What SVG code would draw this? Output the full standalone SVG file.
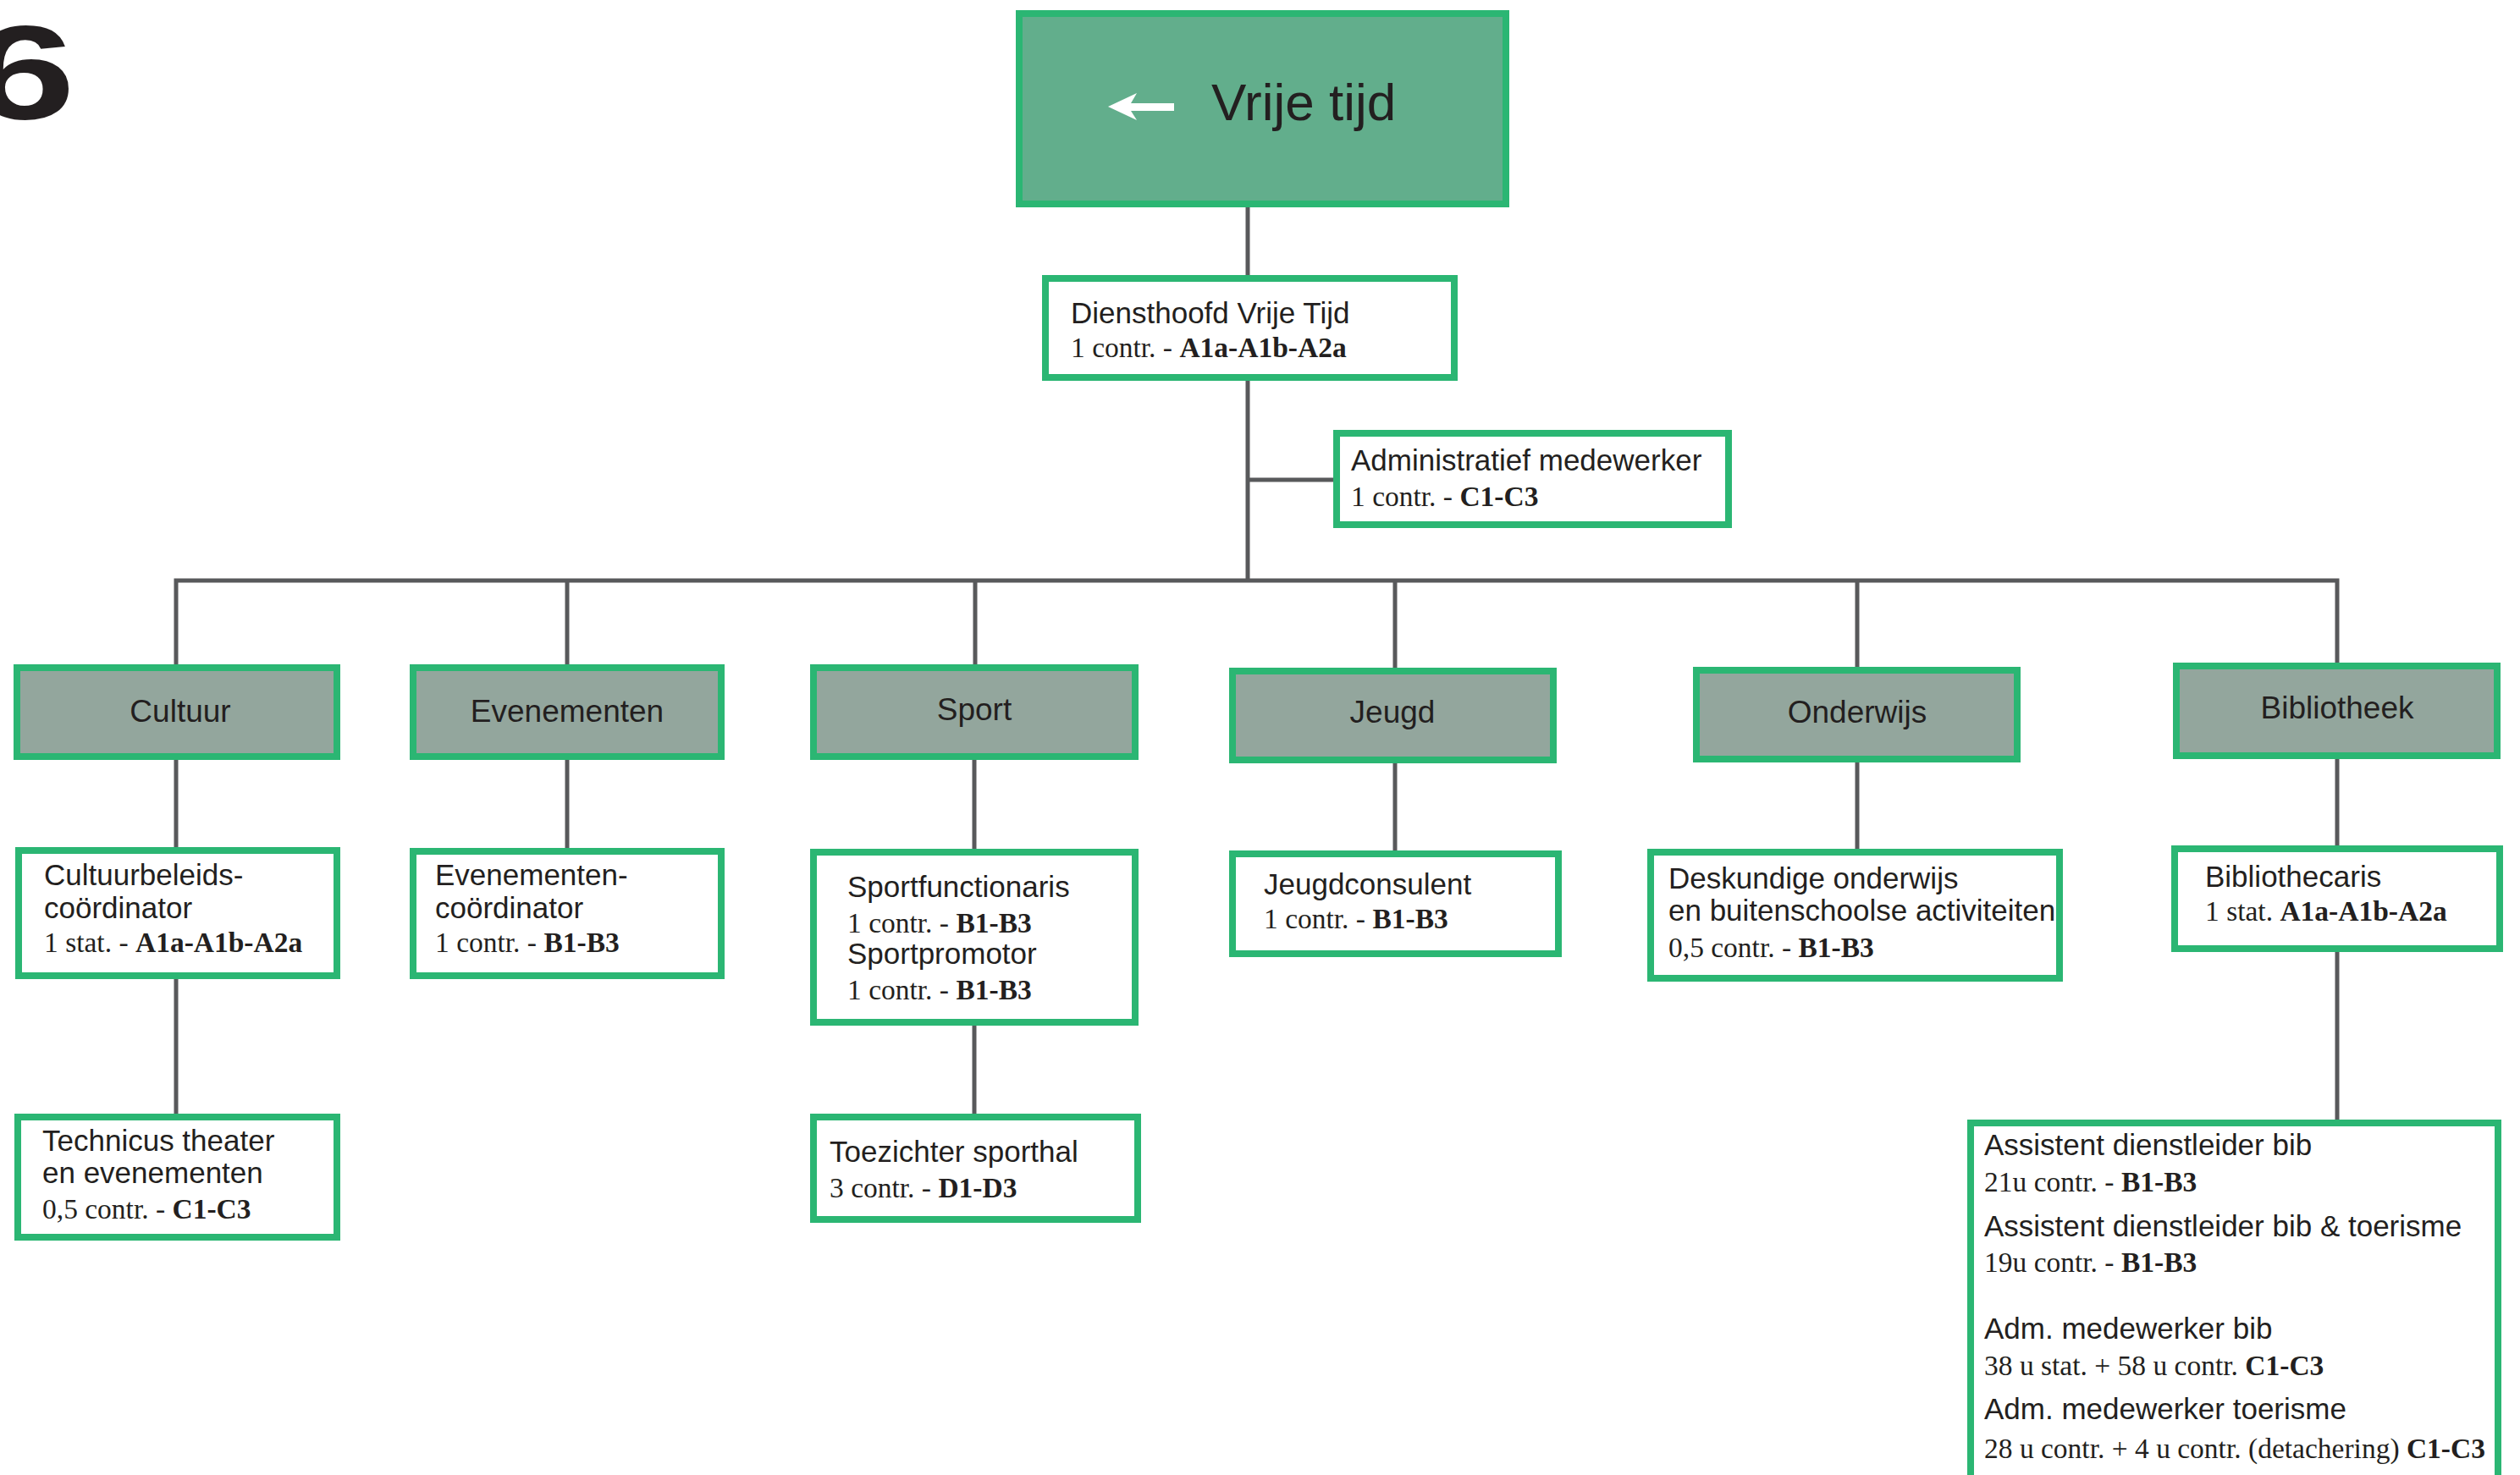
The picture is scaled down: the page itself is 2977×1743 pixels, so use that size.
<svg xmlns="http://www.w3.org/2000/svg" width="2977" height="1743" viewBox="0 0 2977 1743">
<style>
.top{fill:#62ae8c;stroke:#2bb673;stroke-width:8}
.cat{fill:#93a69d;stroke:#2bb673;stroke-width:8}
.box{fill:#ffffff;stroke:#2bb673;stroke-width:8}
.conn{stroke:#58595b;stroke-width:5;fill:none}
.t{font-family:"Liberation Sans",Arial,sans-serif;font-size:35px;fill:#231f20}
.c{font-family:"Liberation Sans",Arial,sans-serif;font-size:37px;fill:#231f20;text-anchor:middle}
.s{font-family:"Liberation Serif","Times New Roman",serif;font-size:33.5px;fill:#231f20}
.b{font-weight:bold}
</style>
<rect x="0" y="0" width="2977" height="1743" fill="#ffffff"/>
<text transform="translate(-34,0) scale(1.4,1)" x="0" y="140" font-family="Liberation Sans,Arial,sans-serif" font-weight="bold" font-size="158" fill="#231f20">6</text>

<g id="connectors">
<path class="conn" d="M1474,245 V325 M1474,450 V688 M1474,567 H1575"/>
<path class="conn" d="M208,787 V686 H2761 V785"/>
<path class="conn" d="M670,686 V785 M1152,686 V785 M1648,686 V789 M2194,686 V788"/>
<path class="conn" d="M208,898 V1001 M208,1157 V1316"/>
<path class="conn" d="M670,898 V1002"/>
<path class="conn" d="M1151,898 V1003 M1151,1212 V1316"/>
<path class="conn" d="M1648,902 V1005"/>
<path class="conn" d="M2194,901 V1003"/>
<path class="conn" d="M2761,897 V999 M2761,1125 V1323"/>
</g>

<g id="vrije-tijd">
<rect class="top" x="1204" y="16" width="575" height="225"/>
<path d="M1309,126 L1343,110 L1336,122 L1387,122 L1387,131 L1336,131 L1343,142 Z" fill="#ffffff"/>
<text x="1431" y="142" font-family="Liberation Sans,Arial,sans-serif" font-size="62" fill="#231f20">Vrije tijd</text>
</g>

<g id="diensthoofd">
<rect class="box" x="1235" y="329" width="483" height="117"/>
<text class="t" x="1265" y="382">Diensthoofd Vrije Tijd</text>
<text class="s" x="1265" y="422">1 contr. -  <tspan class="b">A1a-A1b-A2a</tspan></text>
</g>

<g id="admin">
<rect class="box" x="1579" y="512" width="463" height="108"/>
<text class="t" x="1596" y="556">Administratief medewerker</text>
<text class="s" x="1596" y="598">1 contr. - <tspan class="b">C1-C3</tspan></text>
</g>

<g id="cultuur">
<rect class="cat" x="20" y="789" width="378" height="105"/>
<text class="c" x="213" y="853">Cultuur</text>
</g>
<g id="evenementen">
<rect class="cat" x="488" y="789" width="364" height="105"/>
<text class="c" x="670" y="853">Evenementen</text>
</g>
<g id="sport">
<rect class="cat" x="961" y="789" width="380" height="105"/>
<text class="c" x="1151" y="851">Sport</text>
</g>
<g id="jeugd">
<rect class="cat" x="1456" y="793" width="379" height="105"/>
<text class="c" x="1645" y="854">Jeugd</text>
</g>
<g id="onderwijs">
<rect class="cat" x="2004" y="792" width="379" height="105"/>
<text class="c" x="2194" y="854">Onderwijs</text>
</g>
<g id="bibliotheek">
<rect class="cat" x="2571" y="787" width="379" height="106"/>
<text class="c" x="2761" y="849">Bibliotheek</text>
</g>

<g id="cultuurbeleidscoordinator">
<rect class="box" x="22" y="1005" width="376" height="148"/>
<text class="t" x="52" y="1046">Cultuurbeleids-</text>
<text class="t" x="52" y="1085">coördinator</text>
<text class="s" x="52" y="1125">1 stat. -  <tspan class="b">A1a-A1b-A2a</tspan></text>
</g>

<g id="evenementencoordinator">
<rect class="box" x="488" y="1006" width="364" height="147"/>
<text class="t" x="514" y="1046">Evenementen-</text>
<text class="t" x="514" y="1085">coördinator</text>
<text class="s" x="514" y="1125">1 contr. - <tspan class="b">B1-B3</tspan></text>
</g>

<g id="sportfunctionaris">
<rect class="box" x="961" y="1007" width="380" height="201"/>
<text class="t" x="1001" y="1060">Sportfunctionaris</text>
<text class="s" x="1001" y="1102">1 contr. - <tspan class="b">B1-B3</tspan></text>
<text class="t" x="1001" y="1139">Sportpromotor</text>
<text class="s" x="1001" y="1181">1 contr. - <tspan class="b">B1-B3</tspan></text>
</g>

<g id="jeugdconsulent">
<rect class="box" x="1456" y="1009" width="385" height="118"/>
<text class="t" x="1493" y="1057">Jeugdconsulent</text>
<text class="s" x="1493" y="1097">1 contr. - <tspan class="b">B1-B3</tspan></text>
</g>

<g id="deskundige">
<rect class="box" x="1950" y="1007" width="483" height="149"/>
<text class="t" x="1971" y="1050">Deskundige onderwijs</text>
<text class="t" x="1971" y="1088">en buitenschoolse activiteiten</text>
<text class="s" x="1971" y="1131">0,5 contr. - <tspan class="b">B1-B3</tspan></text>
</g>

<g id="bibliothecaris">
<rect class="box" x="2569" y="1003" width="384" height="118"/>
<text class="t" x="2605" y="1048">Bibliothecaris</text>
<text class="s" x="2605" y="1088">1 stat. <tspan class="b">A1a-A1b-A2a</tspan></text>
</g>

<g id="technicus">
<rect class="box" x="21" y="1320" width="377" height="142"/>
<text class="t" x="50" y="1360">Technicus theater</text>
<text class="t" x="50" y="1398">en evenementen</text>
<text class="s" x="50" y="1440">0,5 contr. - <tspan class="b">C1-C3</tspan></text>
</g>

<g id="toezichter">
<rect class="box" x="961" y="1320" width="383" height="121"/>
<text class="t" x="980" y="1373">Toezichter sporthal</text>
<text class="s" x="980" y="1415">3 contr. - <tspan class="b">D1-D3</tspan></text>
</g>

<g id="bib-team">
<rect class="box" x="2328" y="1327" width="623" height="440"/>
<text class="t" x="2344" y="1365">Assistent dienstleider bib</text>
<text class="s" x="2344" y="1408">21u contr.  - <tspan class="b">B1-B3</tspan></text>
<text class="t" x="2344" y="1461">Assistent dienstleider bib &amp; toerisme</text>
<text class="s" x="2344" y="1503">19u contr. -  <tspan class="b">B1-B3</tspan></text>
<text class="t" x="2344" y="1582">Adm. medewerker bib</text>
<text class="s" x="2344" y="1625">38 u stat. + 58 u contr. <tspan class="b">C1-C3</tspan></text>
<text class="t" x="2344" y="1677">Adm. medewerker toerisme</text>
<text class="s" x="2344" y="1723">28 u contr. + 4 u contr. (detachering) <tspan class="b">C1-C3</tspan></text>
</g>
</svg>
